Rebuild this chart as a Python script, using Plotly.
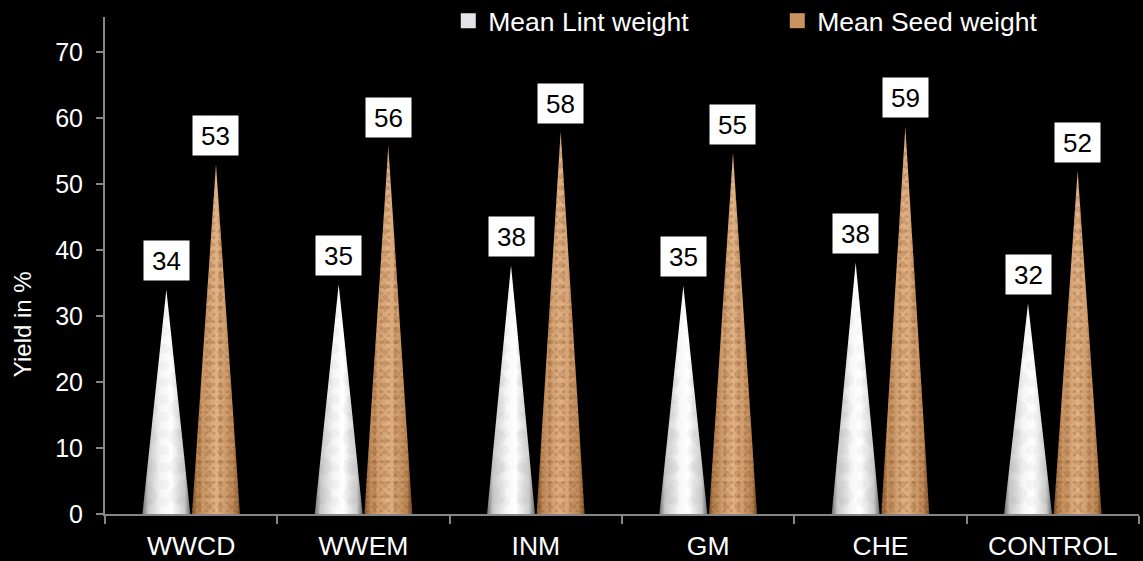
import plotly.graph_objects as go

categories = ["WWCD", "WWEM", "INM", "GM", "CHE", "CONTROL"]
lint_values = [34.0, 34.8, 37.7, 34.6, 38.1, 31.9]
seed_values = [53.0, 55.7, 57.9, 54.7, 58.7, 52.0]
y_ticks = [0, 10, 20, 30, 40, 50, 60, 70]

FONT = "Liberation Sans"
OFFSET = 0.144
HALF = 0.139
CLEAR = "rgba(0,0,0,0)"

series = [
    dict(name="Mean Lint weight", values=lint_values, off=-OFFSET, swatch="#e4e4e8",
         scale=[[0, "#707070"], [0.12, "#c8c8c8"], [0.4, "#f6f6f6"], [0.6, "#ffffff"], [0.88, "#cccccc"], [1, "#6a6a6a"]],
         layers=[dict(shape=".", size=29, solidity=0.3, fgcolor="rgba(130,130,130,0.14)", bgcolor=CLEAR),
                 dict(shape=".", size=17, solidity=0.28, fgcolor="rgba(140,140,140,0.13)", bgcolor=CLEAR)]),
    dict(name="Mean Seed weight", values=seed_values, off=OFFSET, swatch="#c8935f",
         scale=[[0, "#7a4f28"], [0.12, "#bb8552"], [0.5, "#e0b083"], [0.88, "#bb8552"], [1, "#724824"]],
         layers=[dict(shape=".", size=7, solidity=0.22, fgcolor="rgba(125,70,28,0.5)", bgcolor=CLEAR),
                 dict(shape=".", size=11, solidity=0.25, fgcolor="rgba(120,65,25,0.4)", bgcolor=CLEAR),
                 dict(shape=".", size=5, solidity=0.2, fgcolor="rgba(245,215,180,0.35)", bgcolor=CLEAR)]),
]

fig = go.Figure()
annotations = []
for s in series:
    for i, v in enumerate(s["values"]):
        c = i + s["off"]
        xs = [c - HALF, c, c + HALF, c - HALF]
        ys = [0, v, 0, 0]
        fig.add_trace(go.Scatter(x=xs, y=ys, mode="none", fill="toself", showlegend=False,
                                 name=s["name"], legendgroup=s["name"], hoverinfo="skip",
                                 fillgradient=dict(type="horizontal", colorscale=s["scale"])))
        for layer in s["layers"]:
            fig.add_trace(go.Scatter(x=xs, y=ys, mode="none", fill="toself", showlegend=False,
                                     name=s["name"], legendgroup=s["name"], hoverinfo="skip",
                                     fillcolor=CLEAR, fillpattern=layer))
        annotations.append(dict(x=c, y=v, xref="x", yref="y", text=str(round(v)), showarrow=False,
                                yanchor="middle", xanchor="center", yshift=28.7, width=43, height=37,
                                bgcolor="#ffffff", font=dict(family=FONT, size=26, color="#000000")))
    fig.add_trace(go.Scatter(x=[None], y=[None], mode="markers", name=s["name"], legendgroup=s["name"],
                             marker=dict(symbol="square", size=15, color=s["swatch"])))

annotations.append(dict(x=-0.0797, y=28.7, xref="paper", yref="y", text="Yield in %", showarrow=False,
                        textangle=-90, xanchor="center", yanchor="middle",
                        font=dict(family=FONT, size=24, color="#ffffff")))

fig.update_layout(
    width=1143, height=561,
    margin=dict(l=104.5, r=4, t=17, b=47, autoexpand=False),
    paper_bgcolor="#000000", plot_bgcolor="#000000",
    font=dict(family=FONT, color="#ffffff"),
    annotations=annotations,
    legend=dict(orientation="h", x=0.332, xanchor="left", y=0.992, yanchor="middle",
                font=dict(size=26.5, color="#ffffff"), entrywidth=284, entrywidthmode="pixels",
                bgcolor=CLEAR, itemclick=False),
    xaxis=dict(range=[-0.5, 5.5], tickmode="array", tickvals=list(range(len(categories))), ticktext=categories,
               ticks="", showgrid=False, zeroline=False, showline=True, linecolor="#868686", linewidth=2,
               tickfont=dict(size=26.5, color="#ffffff"), ticklabelstandoff=7,
               minor=dict(tick0=-0.5, dtick=1, ticks="outside", ticklen=8, tickwidth=2, tickcolor="#868686", showgrid=False)),
    yaxis=dict(range=[0, 75.3], tickmode="array", tickvals=y_ticks, ticks="outside", ticklen=7, tickwidth=2,
               tickcolor="#868686", showgrid=False, zeroline=False, showline=True, linecolor="#868686", linewidth=2,
               tickfont=dict(size=25, color="#ffffff"), ticklabelstandoff=8),
)

fig.write_html("out.html", config={"displayModeBar": False},
               post_script="document.body.style.margin='0';document.body.style.background='#000';")
